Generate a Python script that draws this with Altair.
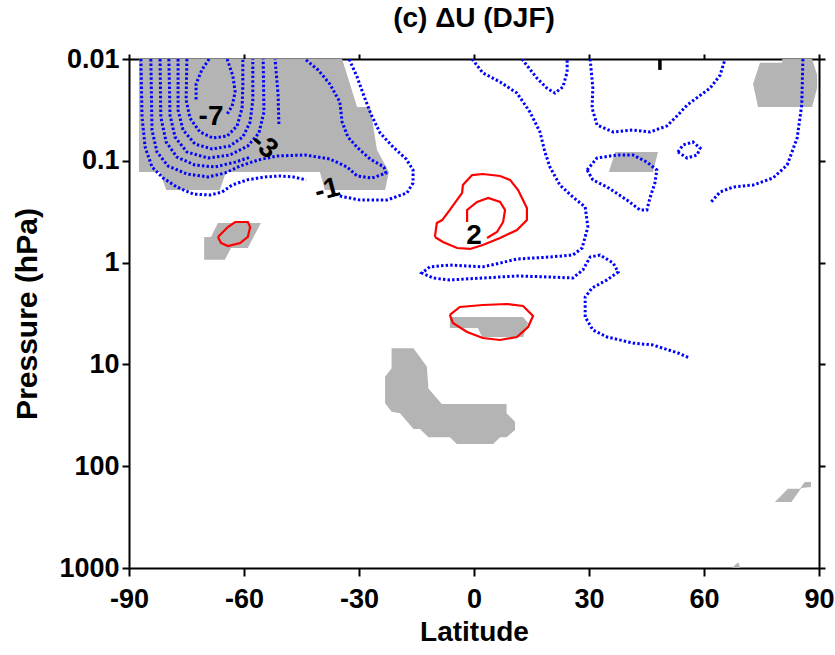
import altair as alt
import pandas as pd

FONT = "Liberation Sans"
GRAY = "#b4b4b4"

# ---------------- significance shading polygons (latitude, hPa) ----------------
shade_A_lat = [-87.4, -34.4, -30.5, -27.1, -25.3, -22.2, -23.2, -38.9, -40.2, -64.7, -66.3, -80.3, -81.9, -87.4]
shade_A_p = [0.01, 0.01, 0.0296, 0.0296, 0.0783, 0.129, 0.194, 0.194, 0.129, 0.129, 0.194, 0.194, 0.129, 0.129]
shade_B_lat = [-66.8, -55.6, -59.0, -63.4, -65.0, -70.4, -70.4, -68.6]
shade_B_p = [0.408, 0.408, 0.719, 0.719, 0.94, 0.94, 0.561, 0.561]
shade_C_lat = [36.8, 48.0, 46.7, 35.2]
shade_C_p = [0.082, 0.082, 0.129, 0.129]
shade_D_lat = [72.8, 74.6, 80.4, 80.4, 88.2, 89.5, 89.5, 88.2, 74.1]
shade_D_p = [0.0176, 0.0109, 0.0109, 0.01, 0.01, 0.0144, 0.0193, 0.0296, 0.0296]
shade_E_lat = [-6.3, 12.8, 14.1, 12.8, 2.1, 1.0, -6.3]
shade_E_p = [3.42, 3.42, 3.92, 5.38, 5.38, 4.39, 4.39]
shade_F_lat = [-21.5, -15.8, -12.3, -11.9, -8.4, 8.5, 8.5, 10.7, 10.7, 8.5, 6.8, 5.0, -4.5, -6.3,
               -11.9, -14.1, -15.8, -19.3, -21.5, -23.2, -23.2, -21.5]
shade_F_p = [6.95, 6.95, 10.5, 17.2, 24.5, 24.5, 30.2, 36.5, 44.1, 52.0, 52.0, 60.5, 60.5, 52.0,
             52.0, 43.1, 43.1, 30.2, 29.2, 24.1, 13.2, 10.9]
shade_G_lat = [78.5, 81.9, 85.0, 86.3, 87.9, 87.9, 85.4, 82.8]
shade_G_p = [225, 167, 167, 143, 143, 160, 164, 225]
shade_H_lat = [67.3, 68.9, 69.5]
shade_H_p = [1000, 880, 1000]

# ---------------- contour lines (latitude, hPa) ----------------
neg_m7a_lat = [-69.1, -71.0, -72.5, -72.5]
neg_m7a_p = [0.01, 0.0128, 0.0176, 0.0253]
neg_m7b_lat = [-64.4, -62.9, -62.3, -63.1, -64.4]
neg_m7b_p = [0.01, 0.0147, 0.0211, 0.0290, 0.0347]
neg_m6_lat = [-74.9, -75.1, -74.1, -71.5, -68.1, -64.4, -61.8, -60.5, -60.3, -60.3]
neg_m6_p = [0.01, 0.0253, 0.0380, 0.0521, 0.0597, 0.0571, 0.0455, 0.0303, 0.0180, 0.01]
neg_m5_lat = [-77.2, -77.2, -75.9, -72.8, -68.3, -63.7, -60.3, -58.4, -57.7, -57.7]
neg_m5_p = [0.01, 0.0317, 0.0498, 0.0684, 0.0766, 0.0715, 0.0584, 0.0416, 0.0253, 0.01]
neg_m4_lat = [-79.6, -79.3, -78.0, -74.9, -69.4, -63.7, -59.0, -56.1, -54.8, -55.0]
neg_m4_p = [0.01, 0.0355, 0.0584, 0.0820, 0.0939, 0.0877, 0.0715, 0.0533, 0.0332, 0.01]
neg_m3a_lat = [-81.9, -81.7, -80.3, -77.5, -72.8, -67.6, -62.3, -58.2]
neg_m3a_p = [0.01, 0.0371, 0.0654, 0.0918, 0.110, 0.115, 0.103, 0.0918]
neg_m3b_lat = [-50.9, -51.1, -51.9]
neg_m3b_p = [0.0435, 0.0226, 0.01]
neg_m2_lat = [-84.3, -84.0, -82.7, -79.8, -74.9, -69.4, -65.0, -61.0, -56.3, -51.4, -44.1, -37.6, -33.1,
              -30.5, -26.6, -23.0, -23.5, -27.1, -30.3, -32.9, -34.4, -35.0, -37.6, -40.7, -44.1]
neg_m2_p = [0.01, 0.0498, 0.0820, 0.1125, 0.1348, 0.144, 0.132, 0.1125, 0.0982, 0.0897, 0.0877, 0.0960, 0.115,
            0.141, 0.1476, 0.132, 0.115, 0.0960, 0.0749, 0.0584, 0.0416, 0.0265, 0.0176, 0.0128, 0.01]
neg_m1a_lat = [-86.9, -86.6, -85.8, -84.0, -81.1, -77.5, -73.3, -68.9, -65.7, -63.1, -59.2, -54.5, -50.6, -47.2, -43.8]
neg_m1a_p = [0.01, 0.0371, 0.0732, 0.115, 0.1476, 0.181, 0.212, 0.217, 0.2025, 0.173, 0.154, 0.144, 0.141, 0.144, 0.154]
neg_m1b_lat = [-35.0, -29.7, -22.7, -17.5, -15.9, -15.9, -17.7, -21.1, -24.5, -26.9, -29.0, -30.5, -32.6]
neg_m1b_p = [0.222, 0.243, 0.243, 0.207, 0.165, 0.123, 0.0960, 0.0732, 0.0533, 0.0347, 0.0216, 0.0150, 0.01]
neg_m1c_lat = [-0.5, 2.3, 6.8, 11.2, 14.6, 17.2, 18.5, 19.8, 22.4, 25.8, 29.0, 29.7, 28.2, 25.8, 19.8, 11.2,
               6.8, 2.3, -6.3, -11.5, -13.6, -10.7, -6.3, 2.3, 11.2, 19.8, 25.8, 28.4, 30.3, 32.9, 36.3,
               37.6, 34.7, 30.8, 29.0, 29.0, 31.0, 34.7, 41.5, 46.7, 53.2, 56.3]
neg_m1c_p = [0.01, 0.0137, 0.0168, 0.0216, 0.0332, 0.0521, 0.0820, 0.115, 0.173, 0.227, 0.284, 0.447, 0.719,
             0.842, 0.881, 0.922, 1.01, 1.10, 1.056, 1.10, 1.265, 1.417, 1.48, 1.417, 1.354, 1.385, 1.417,
             1.18, 0.881, 0.842, 1.01, 1.237, 1.48, 1.777, 2.18, 3.42, 4.59, 5.38, 6.17, 6.45, 7.73, 8.65]
neg_m1d_lat = [12.5, 16.4, 19.0, 21.1, 23.2, 24.3, 24.3]
neg_m1d_p = [0.01, 0.0154, 0.0193, 0.0216, 0.0188, 0.0134, 0.01]
neg_m1e_lat = [85.8, 85.5, 84.3, 81.7, 78.0, 72.8, 67.6, 64.2, 61.6]
neg_m1e_p = [0.01, 0.0283, 0.0597, 0.110, 0.1476, 0.173, 0.181, 0.2025, 0.260]
neg_m1f_lat = [30.3, 31.0, 30.8, 32.1, 36.3, 41.5, 45.9, 50.3, 53.2, 55.6, 61.6, 64.2, 65.5]
neg_m1f_p = [0.01, 0.0193, 0.0303, 0.0445, 0.0521, 0.0498, 0.0521, 0.0455, 0.0355, 0.0283, 0.0193, 0.0144, 0.01]
neg_m1g_lat = [29.5, 32.1, 37.3, 41.5, 45.1, 47.7, 47.2, 45.9, 45.1, 43.3, 39.9, 34.7, 31.0, 29.5]
neg_m1g_p = [0.123, 0.0939, 0.0877, 0.0877, 0.103, 0.123, 0.165, 0.232, 0.304, 0.304, 0.243, 0.181, 0.154, 0.123]
neg_m1h_lat = [53.2, 54.5, 57.1, 59.0, 58.2, 55.6, 53.2]
neg_m1h_p = [0.0820, 0.0699, 0.0654, 0.0749, 0.0877, 0.0939, 0.0820]

pos_1a_lat = [-66.8, -64.2, -62.3, -59.0, -58.4, -59.0, -61.0, -64.2, -66.0, -66.8]
pos_1a_p = [0.560, 0.447, 0.399, 0.399, 0.447, 0.560, 0.642, 0.687, 0.642, 0.560]
pos_1b_lat = [-10.2, -9.7, -8.3, -6.3, -3.1, -2.9, -0.5, 2.3, 6.8, 9.4, 11.5, 13.8, 13.8, 11.2, 6.8, 2.3,
              -1.0, -4.4, -8.1, -10.2]
pos_1b_p = [0.560, 0.408, 0.382, 0.304, 0.207, 0.173, 0.138, 0.1348, 0.141, 0.154, 0.194, 0.291, 0.382,
            0.479, 0.573, 0.671, 0.734, 0.719, 0.627, 0.560]
pos_2_lat = [-1.8, -1.8, 0.8, 3.7, 6.8, 8.1, 7.6, 6.0, 3.4]
pos_2_p = [0.399, 0.304, 0.254, 0.232, 0.254, 0.304, 0.399, 0.50, 0.573]
pos_1c_lat = [-6.3, -3.7, 2.3, 8.6, 12.8, 15.4, 14.1, 11.2, 6.8, 2.3, -1.8, -5.5, -6.3]
pos_1c_p = [3.27, 2.73, 2.61, 2.55, 2.67, 3.34, 4.29, 5.38, 5.76, 5.50, 4.81, 3.92, 3.27]

# contour labels
label_text = ["-7", "-3", "-1", "2"]
label_lat = [-68.6, -54.8, -38.3, 0.0]
label_p = [0.0371, 0.0715, 0.194, 0.55]
label_angle = [0, 40, 345, 0]

# clipped label stub at the top
stub_lat = [48.5]
stub_p1 = [0.01]
stub_p2 = [0.0128]

x_ticks = [-90, -60, -30, 0, 30, 60, 90]
y_ticks = [0.01, 0.1, 1, 10, 100, 1000]

# ---------------- tables ----------------
shades = [("A", shade_A_lat, shade_A_p), ("B", shade_B_lat, shade_B_p), ("C", shade_C_lat, shade_C_p),
          ("D", shade_D_lat, shade_D_p), ("E", shade_E_lat, shade_E_p), ("F", shade_F_lat, shade_F_p),
          ("G", shade_G_lat, shade_G_p), ("H", shade_H_lat, shade_H_p)]
negs = [("m7a", neg_m7a_lat, neg_m7a_p), ("m7b", neg_m7b_lat, neg_m7b_p), ("m6", neg_m6_lat, neg_m6_p),
        ("m5", neg_m5_lat, neg_m5_p), ("m4", neg_m4_lat, neg_m4_p), ("m3a", neg_m3a_lat, neg_m3a_p),
        ("m3b", neg_m3b_lat, neg_m3b_p), ("m2", neg_m2_lat, neg_m2_p), ("m1a", neg_m1a_lat, neg_m1a_p),
        ("m1b", neg_m1b_lat, neg_m1b_p), ("m1c", neg_m1c_lat, neg_m1c_p), ("m1d", neg_m1d_lat, neg_m1d_p),
        ("m1e", neg_m1e_lat, neg_m1e_p), ("m1f", neg_m1f_lat, neg_m1f_p), ("m1g", neg_m1g_lat, neg_m1g_p),
        ("m1h", neg_m1h_lat, neg_m1h_p)]
poss = [("p1a", pos_1a_lat, pos_1a_p), ("p1b", pos_1b_lat, pos_1b_p), ("p2", pos_2_lat, pos_2_p),
        ("p1c", pos_1c_lat, pos_1c_p)]


def table(groups):
    rows = []
    for gid, lats, ps in groups:
        for i, (la, pp) in enumerate(zip(lats, ps)):
            rows.append({"id": gid, "o": i, "lat": la, "p": pp})
    return pd.DataFrame(rows)


shade_df = table(shades)
neg_df = table(negs)
pos_df = table(poss)
label_df = pd.DataFrame({"t": label_text, "lat": label_lat, "p": label_p, "a": label_angle})
stub_df = pd.DataFrame({"lat": stub_lat, "p": stub_p1, "p2": stub_p2})
frame_df = pd.DataFrame({"lat": [-90, 90], "p": [0.01, 1000]})

xs = alt.Scale(domain=[-90, 90], nice=False, zero=False)
ys = alt.Scale(type="log", domain=[0.01, 1000], reverse=True, nice=False)
X = alt.X("lat:Q", scale=xs, axis=None)
Y = alt.Y("p:Q", scale=ys, axis=None)

shade_layer = alt.Chart(shade_df).mark_line(
    fill=GRAY, fillOpacity=1, strokeWidth=0, clip=True
).encode(x=X, y=Y, detail="id:N", order="o:Q")

neg_layer = alt.Chart(neg_df).mark_line(
    color="#0000ff", strokeWidth=3, strokeDash=[2.4, 2.2], clip=True
).encode(x=X, y=Y, detail="id:N", order="o:Q")

pos_layer = alt.Chart(pos_df).mark_line(
    color="#ff0000", strokeWidth=2.2, clip=True
).encode(x=X, y=Y, detail="id:N", order="o:Q")

label_layer = alt.Chart(label_df).mark_text(
    font=FONT, fontWeight="bold", fontSize=28, color="black"
).encode(x=X, y=Y, text="t:N", angle=alt.Angle("a:Q", scale=None))

stub_layer = alt.Chart(stub_df).mark_rule(color="black", strokeWidth=3.5).encode(
    x=X, y=Y, y2="p2:Q")

axis_common = dict(domain=True, domainColor="black", domainWidth=2, tickColor="black", tickWidth=2,
                   grid=False, labelFont=FONT, labelFontWeight="bold", labelFontSize=27,
                   labelColor="black", labelFlush=False, titleFont=FONT, titleFontWeight="bold",
                   titleColor="black")

axes_main = alt.Chart(frame_df).mark_point(opacity=0).encode(
    x=alt.X("lat:Q", scale=xs, axis=alt.Axis(orient="bottom", values=x_ticks, tickSize=8,
                                              labelExpr="'' + datum.value", labelPadding=10,
                                              title="Latitude", titleFontSize=28, titlePadding=6,
                                              **axis_common)),
    y=alt.Y("p:Q", scale=ys, axis=alt.Axis(orient="left", values=y_ticks, tickSize=7, format="~g",
                                           labelPadding=3, title="Pressure (hPa)", titleFontSize=30,
                                           titlePadding=16, **axis_common)),
)

axes_other = alt.Chart(frame_df).mark_point(opacity=0).encode(
    x=alt.X("lat:Q", scale=xs, axis=alt.Axis(orient="top", values=x_ticks, tickSize=5, labels=False,
                                              title="", **axis_common)),
    y=alt.Y("p:Q", scale=ys, axis=alt.Axis(orient="right", values=y_ticks, tickSize=6, labels=False,
                                           title="", **axis_common)),
)

chart = alt.layer(
    shade_layer, neg_layer, pos_layer, label_layer, stub_layer, axes_main, axes_other
).resolve_axis(x="independent", y="independent").properties(
    width=690, height=509,
    title=alt.TitleParams("(c) \u0394U (DJF)", font=FONT, fontWeight="bold", fontSize=28,
                          color="black", anchor="middle", offset=12),
    padding={"left": 129, "top": 59, "right": 16, "bottom": 87},
    autosize="none",
).configure_view(stroke="black", strokeWidth=2).configure(background="white")

chart.save("out.html", embed_options={"renderer": "svg", "actions": False})
